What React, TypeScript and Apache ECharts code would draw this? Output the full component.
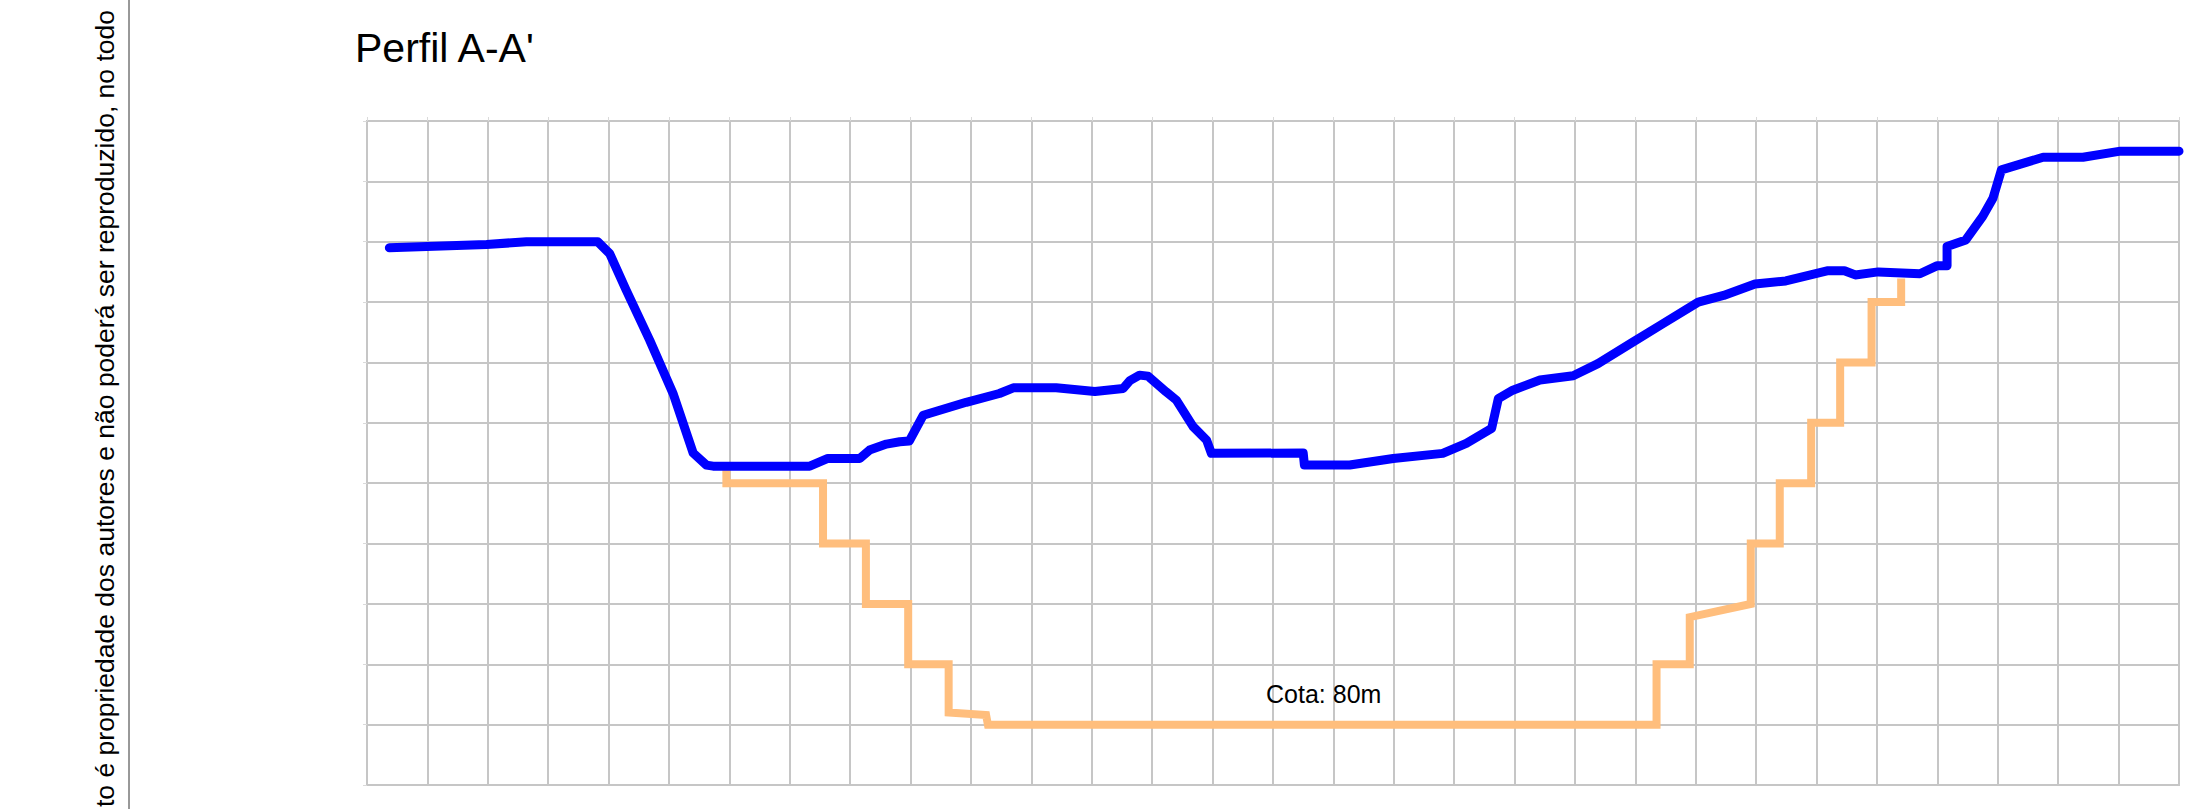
import React, { useEffect, useRef } from "react";
import * as echarts from "echarts";

// Terrain profile (blue): distance (m) and elevation (m)
const terrainX = [
  37, 198, 264, 382, 402, 429, 468, 507, 540, 562, 573, 733, 763, 816, 832, 860, 882, 898, 921, 992,
  1047, 1070, 1141, 1205, 1252, 1263, 1279, 1293, 1323, 1340, 1368, 1390, 1398, 1550, 1552, 1627,
  1699, 1781, 1820, 1862, 1873, 1897, 1942, 1997, 2038, 2093, 2142, 2204, 2246, 2298, 2349, 2419,
  2446, 2464, 2502, 2571, 2599, 2616, 2616, 2647, 2675, 2692, 2706, 2775, 2841, 2903, 3000,
];
const terrainY = [
  119.5, 119.77, 120.0, 120.0, 119.0, 116.0, 111.85, 107.4, 102.5, 101.5, 101.41, 101.41, 102.05, 102.05,
  102.74, 103.24, 103.43, 103.5, 105.63, 106.7, 107.43, 107.9, 107.9, 107.6, 107.85, 108.5, 108.95,
  108.87, 107.57, 106.88, 104.67, 103.57, 102.47, 102.5, 101.5, 101.5, 102.05, 102.47, 103.3, 104.54,
  107.0, 107.7, 108.55, 108.9, 109.9, 111.6, 113.1, 115.0, 115.55, 116.5, 116.75, 117.6, 117.6, 117.25,
  117.5, 117.35, 118.0, 118.0, 119.6, 120.15, 122.1, 123.6, 125.95, 127.0, 127.0, 127.5, 127.5,
];

// Excavation / cut profile (orange)
const cutX = [
  595, 595, 755, 755, 826, 826, 896, 896, 963, 963, 1025, 1028, 2135, 2135, 2190, 2190, 2291, 2291,
  2339, 2339, 2391, 2391, 2439, 2439, 2491, 2491, 2540, 2540,
];
const cutY = [
  101.2, 100, 100, 95, 95, 90, 90, 85, 85, 81, 80.8, 80, 80, 85, 85, 88.9, 90, 95, 95, 100, 100, 105,
  105, 110, 110, 115, 115, 116.95,
];

const cotaLabel = "Cota: 80m";
const cotaPoint = [1584, 82.5];
const titleText = "Perfil A-A'";
const sideText = "to é propriedade dos autores e não poderá ser reproduzido, no todo";

const FONT = "'Liberation Sans', Arial, Helvetica, sans-serif";
const GRID_COLOR = "#c6c6c6";

export default function App() {
  const ref = useRef<HTMLDivElement>(null);

  useEffect(() => {
    if (!ref.current) return;
    const chart = echarts.init(ref.current, null, { renderer: "svg" });

    const terrain = terrainX.map((x, i) => [x, terrainY[i]]);
    const cut = cutX.map((x, i) => [x, cutY[i]]);

    chart.setOption({
      animation: false,
      backgroundColor: "#ffffff",
      grid: {
        left: 367,
        right: 15,
        top: 121,
        bottom: 24,
        show: true,
        borderColor: GRID_COLOR,
        borderWidth: 2,
        backgroundColor: "transparent",
      },
      xAxis: {
        type: "value",
        min: 0,
        max: 3000,
        interval: 100,
        position: "top",
        axisLine: { show: true, lineStyle: { color: GRID_COLOR, width: 2 } },
        axisTick: { show: true, length: 4, lineStyle: { color: "#dadada", width: 1 } },
        axisLabel: { show: false },
        splitLine: { show: true, lineStyle: { color: GRID_COLOR, width: 2 } },
      },
      yAxis: {
        type: "value",
        min: 75,
        max: 130,
        interval: 5,
        axisLine: { show: true, lineStyle: { color: GRID_COLOR, width: 2 } },
        axisTick: { show: true, length: 4, lineStyle: { color: "#dadada", width: 1 } },
        axisLabel: { show: false },
        splitLine: { show: true, lineStyle: { color: GRID_COLOR, width: 2 } },
      },
      series: [
        {
          name: "Escavação",
          type: "line",
          data: cut,
          showSymbol: false,
          symbol: "none",
          z: 2,
          lineStyle: { color: "#ffbe7d", width: 8, join: "miter", cap: "butt" },
        },
        {
          name: "Terreno",
          type: "line",
          data: terrain,
          showSymbol: false,
          symbol: "none",
          z: 3,
          lineStyle: { color: "#0000ff", width: 9, join: "round", cap: "round" },
        },
        {
          name: "Cota",
          type: "scatter",
          data: [cotaPoint],
          symbol: "circle",
          symbolSize: 2,
          z: 4,
          silent: true,
          itemStyle: { color: "rgba(255,255,255,0)" },
          label: {
            show: true,
            position: "inside",
            formatter: cotaLabel,
            color: "#000000",
            opacity: 1,
            fontSize: 25,
            fontFamily: FONT,
          },
        },
      ],
      graphic: [
        {
          type: "text",
          x: 355,
          y: 48,
          style: {
            text: titleText,
            fill: "#000000",
            fontSize: 41,
            fontFamily: FONT,
            align: "left",
            verticalAlign: "middle",
          },
        },
        {
          type: "line",
          shape: { x1: 129, y1: 0, x2: 129, y2: 809 },
          style: { stroke: "#333333", lineWidth: 1 },
        },
        {
          type: "text",
          x: 105,
          y: 807,
          rotation: Math.PI / 2,
          style: {
            text: sideText,
            fill: "#000000",
            fontSize: 26.5,
            fontFamily: FONT,
            align: "left",
            verticalAlign: "middle",
          },
        },
      ],
    });

    return () => chart.dispose();
  }, []);

  return (
    <div
      ref={ref}
      style={{ position: "fixed", left: 0, top: 0, width: "2194px", height: "809px", background: "#fff" }}
    />
  );
}
